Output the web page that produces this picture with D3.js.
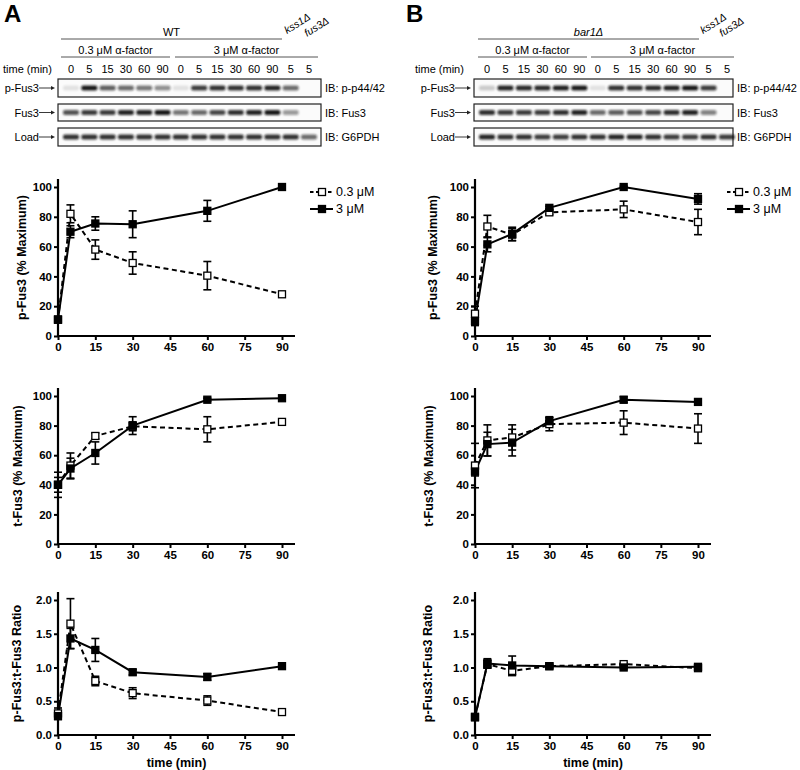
<!DOCTYPE html>
<html><head><meta charset="utf-8">
<script src="https://cdn.jsdelivr.net/npm/d3@7"></script>
<style>body{margin:0;background:#fff}svg{display:block;font-family:"Liberation Sans",Arial,sans-serif}</style>
</head><body><svg id="c" width="800" height="770"></svg>
<script>
// ---------- data ----------
const times = [0, 5, 15, 30, 60, 90];
const xTicks = [0, 15, 30, 45, 60, 75, 90];
const pctTicks = [0, 20, 40, 60, 80, 100];
const ratioTicks = [0, 0.5, 1.0, 1.5, 2.0];
const seriesNames = ["0.3 \u03bcM", "3 \u03bcM"];
const laneLabels = ["0","5","15","30","60","90","0","5","15","30","60","90","5","5"];

// Panel A (WT)
const wtPLow = [11, 82, 58, 49, 40.5, 28];
const wtPLowErr = [2, 6, 6.5, 7.5, 9.5, 1.5];
const wtPHigh = [11, 70, 75.5, 75, 84, 100];
const wtPHighErr = [2, 4, 4.5, 9, 7, 0.5];
const wtTLow = [40, 53, 73, 79.5, 77.5, 82.5];
const wtTLowErr = [5, 8.5, 2, 3, 8.5, 1];
const wtTHigh = [40, 51, 61.5, 80, 97.5, 98.5];
const wtTHighErr = [8.5, 7, 7.5, 6, 1, 0.5];
const wtRLow = [0.32, 1.65, 0.80, 0.62, 0.51, 0.34];
const wtRLowErr = [0.08, 0.37, 0.07, 0.08, 0.07, 0.02];
const wtRHigh = [0.28, 1.43, 1.26, 0.93, 0.86, 1.02];
const wtRHighErr = [0.05, 0.15, 0.17, 0.04, 0.05, 0.01];

// Panel B (bar1Δ)
const barPLow = [15, 73.5, 68, 83, 85, 76.5];
const barPLowErr = [5, 7.5, 4, 1.5, 5.5, 8.5];
const barPHigh = [10, 61.5, 68.5, 86, 100, 92];
const barPHighErr = [3, 5, 4.5, 1, 0.5, 3.5];
const barTLow = [53, 70, 72, 81, 82, 78];
const barTLowErr = [15, 10.5, 8.5, 4.5, 8, 10];
const barTHigh = [49, 67.5, 68.5, 83, 97.5, 96];
const barTHighErr = [3, 8, 9, 3, 2, 0.5];
const barRLow = [0.27, 1.05, 0.95, 1.02, 1.05, 0.99];
const barRLowErr = [0.04, 0.06, 0.07, 0.02, 0.02, 0.03];
const barRHigh = [0.26, 1.06, 1.03, 1.02, 1.00, 1.01];
const barRHighErr = [0.03, 0.07, 0.14, 0.03, 0.02, 0.04];

// Blot band intensities (0..1) per lane
const wtPhosBands = [0.1, 0.95, 0.65, 0.6, 0.55, 0.45, 0.1, 0.8, 0.85, 0.85, 0.85, 0.9, 0.6, 0];
const wtFusBands = [0.7, 0.8, 0.8, 0.9, 0.9, 0.95, 0.55, 0.6, 0.75, 0.85, 0.9, 0.95, 0.4, 0];
const wtLoadBands = [0.85, 0.85, 0.85, 0.85, 0.85, 0.85, 0.85, 0.85, 0.85, 0.85, 0.85, 0.85, 0.85, 0.6];
const barPhosBands = [0.2, 0.9, 0.88, 0.88, 0.92, 0.95, 0.1, 0.85, 0.85, 0.88, 0.92, 0.95, 0.8, 0];
const barFusBands = [0.85, 0.8, 0.8, 0.8, 0.85, 0.9, 0.6, 0.65, 0.7, 0.75, 0.85, 0.9, 0.5, 0];
const barLoadBands = [0.9, 0.85, 0.85, 0.8, 0.8, 0.85, 0.85, 0.9, 0.9, 0.85, 0.8, 0.8, 0.85, 0.8];

// ---------- drawing ----------
const svg = d3.select("#c");
const defs = svg.append("defs");
defs.append("filter").attr("id", "blur").attr("x", "-50%").attr("y", "-100%").attr("width", "200%").attr("height", "300%")
  .append("feGaussianBlur").attr("stdDeviation", 0.9);

function blotPanel(o) {
  const g = svg.append("g");
  g.append("text").attr("x", o.letterX).attr("y", 22).attr("font-size", 24).attr("font-weight", "bold").text(o.letter);
  g.append("text").attr("x", (o.strainL + o.strainR) / 2).attr("y", 36).attr("text-anchor", "middle")
    .attr("font-size", 11).attr("font-style", o.strainItalic ? "italic" : "normal").text(o.strain);
  g.append("line").attr("x1", o.strainL).attr("x2", o.strainR).attr("y1", 39).attr("y2", 39).attr("stroke", "#555").attr("stroke-width", 1);
  o.groups.forEach(gr => {
    g.append("text").attr("x", (gr[0] + gr[1]) / 2).attr("y", 54).attr("text-anchor", "middle").attr("font-size", 11).text(gr[2]);
    g.append("line").attr("x1", gr[0]).attr("x2", gr[1]).attr("y1", 57).attr("y2", 57).attr("stroke", "#555").attr("stroke-width", 1);
  });
  g.append("text").attr("x", o.timeX).attr("y", 73).attr("font-size", 11).text("time (min)");
  const lane = d3.scalePoint().domain(d3.range(laneLabels.length)).range(o.laneRange);
  g.selectAll(".lane").data(laneLabels).join("text").attr("x", (d, i) => lane(i)).attr("y", 73)
    .attr("text-anchor", "middle").attr("font-size", 11).text(d => d);
  o.mutants.forEach(m => {
    g.append("text").attr("transform", `translate(${m[0]},${m[1]}) rotate(-32)`).attr("font-size", 10.5)
      .attr("font-style", "italic").text(m[2]);
  });
  const rows = [
    {y: 79, h: 18, label: "p-Fus3", ib: "IB: p-p44/42", bands: o.bands[0]},
    {y: 104, h: 17, label: "Fus3", ib: "IB: Fus3", bands: o.bands[1]},
    {y: 128, h: 18, label: "Load", ib: "IB: G6PDH", bands: o.bands[2]}
  ];
  rows.forEach(r => {
    const cy = r.y + r.h / 2;
    g.append("rect").attr("x", o.boxL).attr("y", r.y).attr("width", o.boxR - o.boxL).attr("height", r.h)
      .attr("fill", "#fbfbfb").attr("stroke", "#222").attr("stroke-width", 1.2);
    g.selectAll(null).data(r.bands).join("rect")
      .attr("x", (d, i) => lane(i) - 8).attr("y", cy - 2.5).attr("width", 16).attr("height", 5).attr("rx", 2)
      .attr("fill", "#111").attr("opacity", d => d).attr("filter", "url(#blur)");
    g.append("text").attr("x", o.boxL - 19).attr("y", cy).attr("dominant-baseline", "central")
      .attr("text-anchor", "end").attr("font-size", 11).text(r.label);
    g.append("line").attr("x1", o.boxL - 19).attr("x2", o.boxL - 5).attr("y1", cy).attr("y2", cy).attr("stroke", "#222").attr("stroke-width", 0.9);
    g.append("path").attr("d", `M${o.boxL - 3},${cy} l-4,-2 l0,4 z`).attr("fill", "#222");
    g.append("text").attr("x", o.boxR + 4).attr("y", cy).attr("dominant-baseline", "central").attr("font-size", 11).text(r.ib);
  });
}

blotPanel({
  letter: "A", letterX: 4, strain: "WT", strainItalic: false, strainL: 61, strainR: 282,
  groups: [[61, 170, "0.3 \u03bcM \u03b1-factor"], [175, 318, "3 \u03bcM \u03b1-factor"]],
  timeX: 3, laneRange: [71, 309], boxL: 58, boxR: 321,
  mutants: [[287, 34, "kss1\u0394"], [307, 37, "fus3\u0394"]],
  bands: [wtPhosBands, wtFusBands, wtLoadBands]
});
blotPanel({
  letter: "B", letterX: 406, strain: "bar1\u0394", strainItalic: true, strainL: 478, strainR: 699,
  groups: [[478, 587, "0.3 \u03bcM \u03b1-factor"], [591, 734, "3 \u03bcM \u03b1-factor"]],
  timeX: 415, laneRange: [487, 727], boxL: 474, boxR: 733,
  mutants: [[703, 34, "kss1\u0394"], [722, 37, "fus3\u0394"]],
  bands: [barPhosBands, barFusBands, barLoadBands]
});

function chart(o) {
  const g = svg.append("g");
  const x = d3.scaleLinear().domain([0, 90]).range([o.x0, o.x90]);
  const y = d3.scaleLinear().domain([0, o.ymax]).range([o.y0, o.yTop]);
  const xEnd = o.x90 + 13, yEnd = o.yTop - 8;
  const yAx = g.append("g").attr("transform", `translate(${o.x0},0)`)
    .call(d3.axisLeft(y).tickValues(o.yTicks).tickSize(4).tickPadding(2).tickFormat(o.fmt));
  const xAx = g.append("g").attr("transform", `translate(0,${o.y0})`)
    .call(d3.axisBottom(x).tickValues(xTicks).tickSize(4).tickPadding(3));
  [yAx, xAx].forEach(a => {
    a.select(".domain").remove();
    a.selectAll("line").attr("stroke", "#000").attr("stroke-width", 2);
    a.selectAll("text").attr("font-size", 11.5).attr("font-weight", "bold").attr("fill", "#000")
      .attr("font-family", "Liberation Sans, Arial, sans-serif");
  });
  g.append("line").attr("x1", o.x0).attr("x2", o.x0).attr("y1", yEnd).attr("y2", o.y0 + 1).attr("stroke", "#000").attr("stroke-width", 2.2);
  g.append("line").attr("x1", o.x0 - 1).attr("x2", xEnd).attr("y1", o.y0).attr("y2", o.y0).attr("stroke", "#000").attr("stroke-width", 2.2);
  g.append("text").attr("transform", `translate(${o.titleX},${(yEnd + o.y0) / 2}) rotate(-90)`)
    .attr("text-anchor", "middle").attr("dominant-baseline", "central").attr("font-size", 12.5).attr("font-weight", "bold").text(o.title);
  if (o.xlabel) g.append("text").attr("x", (o.x0 + xEnd) / 2).attr("y", o.y0 + 32).attr("text-anchor", "middle")
    .attr("font-size", 12.5).attr("font-weight", "bold").text(o.xlabel);

  const line = d3.line().x((d, i) => x(times[i])).y(d => y(d));
  const series = [
    {v: o.low, e: o.lowErr, dash: "5,3.5", open: true},
    {v: o.high, e: o.highErr, dash: null, open: false}
  ];
  series.forEach(s => {
    const eg = g.append("g");
    s.v.forEach((v, i) => {
      const cx = x(times[i]);
      const y1 = y(v + s.e[i]), y2 = y(v - s.e[i]);
      eg.append("line").attr("x1", cx).attr("x2", cx).attr("y1", y1).attr("y2", y2).attr("stroke", "#000").attr("stroke-width", 1.6);
      [y1, y2].forEach(yy => eg.append("line").attr("x1", cx - 4).attr("x2", cx + 4).attr("y1", yy).attr("y2", yy).attr("stroke", "#000").attr("stroke-width", 1.6));
    });
  });
  series.forEach(s => {
    g.append("path").datum(s.v).attr("d", line).attr("fill", "none").attr("stroke", "#000").attr("stroke-width", 2)
      .attr("stroke-dasharray", s.dash);
  });
  series.forEach(s => {
    g.selectAll(null).data(s.v).join("rect")
      .attr("x", (d, i) => x(times[i]) - 3.5).attr("y", d => y(d) - 3.5).attr("width", 7).attr("height", 7)
      .attr("fill", s.open ? "#fff" : "#000").attr("stroke", "#000").attr("stroke-width", 1.3);
  });
  if (o.legendX != null) {
    const lg = g.append("g");
    const rowsY = [o.legendY, o.legendY + 17];
    series.forEach((s, i) => {
      const ly = rowsY[i];
      lg.append("line").attr("x1", o.legendX).attr("x2", o.legendX + 23).attr("y1", ly).attr("y2", ly)
        .attr("stroke", "#000").attr("stroke-width", 2).attr("stroke-dasharray", s.dash ? "3.5,2.5" : null);
      lg.append("rect").attr("x", o.legendX + 8.5).attr("y", ly - 3.5).attr("width", 7).attr("height", 7)
        .attr("fill", s.open ? "#fff" : "#000").attr("stroke", "#000").attr("stroke-width", 1.3);
      lg.append("text").attr("x", o.legendX + 26).attr("y", ly).attr("dominant-baseline", "central")
        .attr("font-size", 12.5).text(seriesNames[i]);
    });
  }
}

const pctFmt = d3.format("d"), ratioFmt = d3.format(".1f");
const cols = [
  {x0: 58, x90: 282, titleX: 22, legendX: 310, data: [
    [wtPLow, wtPLowErr, wtPHigh, wtPHighErr], [wtTLow, wtTLowErr, wtTHigh, wtTHighErr], [wtRLow, wtRLowErr, wtRHigh, wtRHighErr]]},
  {x0: 475, x90: 698, titleX: 433, legendX: 727, data: [
    [barPLow, barPLowErr, barPHigh, barPHighErr], [barTLow, barTLowErr, barTHigh, barTHighErr], [barRLow, barRLowErr, barRHigh, barRHighErr]]}
];
cols.forEach(c => {
  chart({x0: c.x0, x90: c.x90, y0: 336, yTop: 187, ymax: 100, yTicks: pctTicks, fmt: pctFmt, titleX: c.titleX,
    title: "p-Fus3 (% Maximum)", low: c.data[0][0], lowErr: c.data[0][1], high: c.data[0][2], highErr: c.data[0][3],
    legendX: c.legendX, legendY: 192});
  chart({x0: c.x0, x90: c.x90, y0: 544, yTop: 396, ymax: 100, yTicks: pctTicks, fmt: pctFmt, titleX: c.titleX - 4,
    title: "t-Fus3 (% Maximum)", low: c.data[1][0], lowErr: c.data[1][1], high: c.data[1][2], highErr: c.data[1][3]});
  chart({x0: c.x0, x90: c.x90, y0: 735, yTop: 600, ymax: 2.0, yTicks: ratioTicks, fmt: ratioFmt, titleX: c.titleX - 5,
    title: "p-Fus3:t-Fus3 Ratio", low: c.data[2][0], lowErr: c.data[2][1], high: c.data[2][2], highErr: c.data[2][3],
    xlabel: "time (min)"});
});
</script></body></html>
